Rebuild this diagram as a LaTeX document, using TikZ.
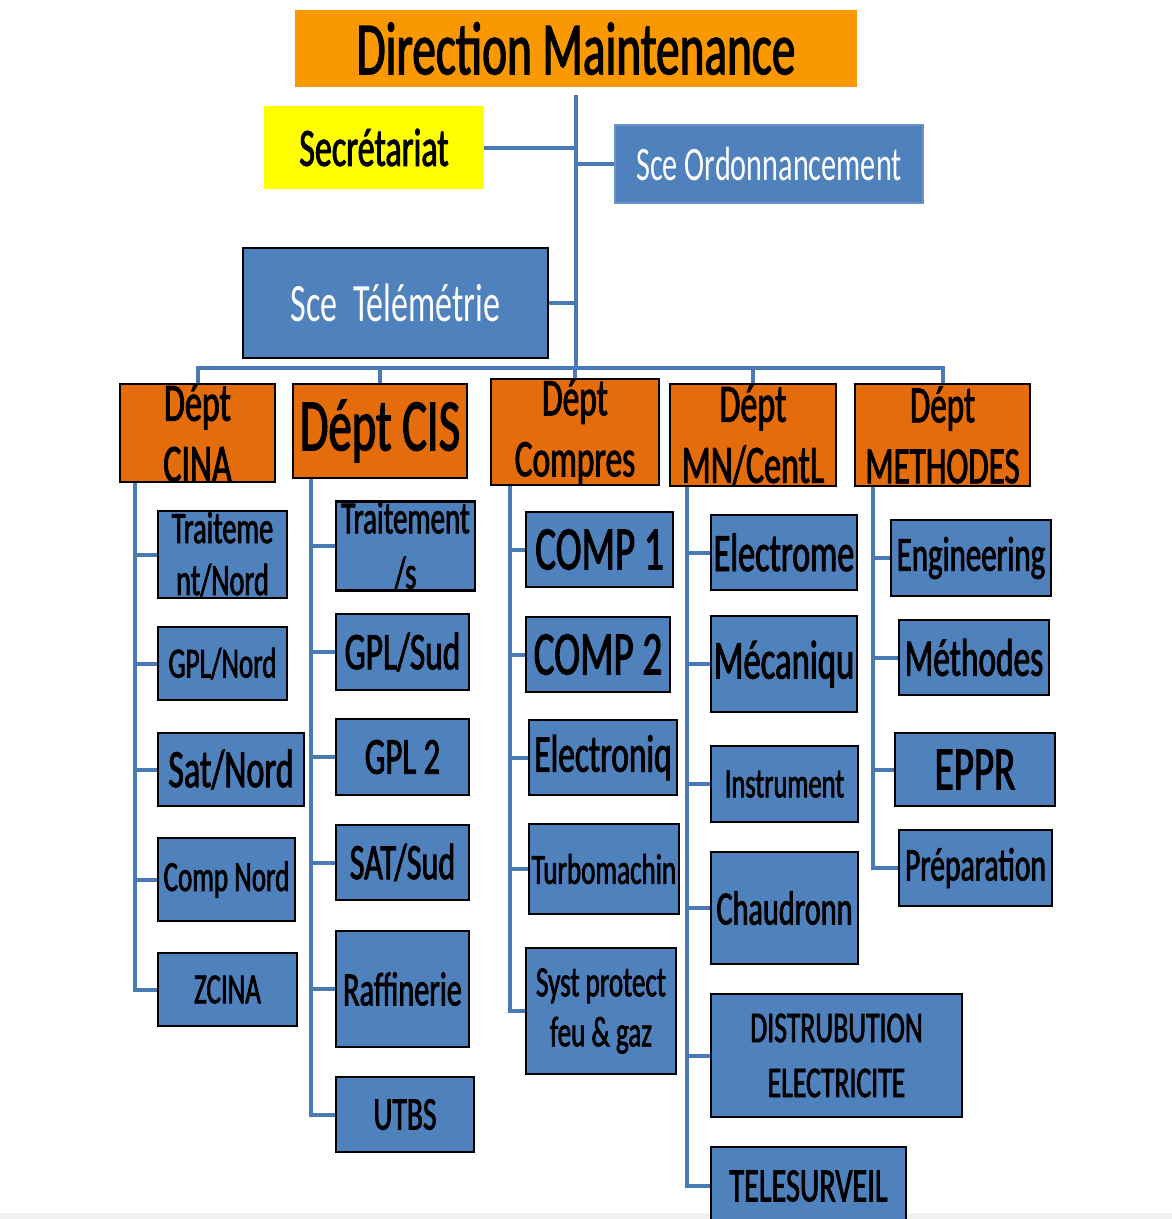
\documentclass[tikz,border=0pt]{standalone}
\usepackage{fontspec}
\setmainfont{Carlito}[FakeStretch=0.63,FakeBold=1.6]
\newfontfamily\plainfont{Carlito}[FakeStretch=0.63]
\usetikzlibrary{backgrounds}
\definecolor{boxblue}{RGB}{79,129,189}
\definecolor{lineblue}{RGB}{74,122,182}
\definecolor{titleorange}{RGB}{250,152,0}
\definecolor{deptorange}{RGB}{228,108,10}
\definecolor{secyellow}{RGB}{255,255,0}
\definecolor{ordoborder}{RGB}{110,146,200}
\begin{document}
\begin{tikzpicture}[x=1pt,y=-1pt,
  box/.style={rectangle, inner sep=0pt, outer sep=0pt, align=center},
  wh/.style 2 args={minimum width=#1pt, minimum height=#2pt},
  fz/.style 2 args={font=\fontsize{#1}{#2}\selectfont},
  pz/.style 2 args={font=\plainfont\fontsize{#1}{#2}\selectfont},
  bluebox/.style={box, fill=boxblue, draw=black, line width=2.5pt, text=black},
  deptbox/.style={box, fill=deptorange, draw=black, line width=2.5pt, text=black},
  conn/.style={draw=lineblue, line width=4pt, line join=miter}]
\useasboundingbox (0,0) rectangle (1172,1219);

% top level
\node[box, fill=titleorange, wh={562}{77}, fz={75}{80}] (title) at (576,48.5) {Direction Maintenance};
\node[box, fill=secyellow, wh={220}{83}, fz={54}{60}] (secr) at (374,147.5) {Secrétariat};
\node[box, fill=boxblue, draw=ordoborder, line width=1.2pt, text=white, wh={308}{78}, pz={48}{54}] (ordo) at (769,164) {Sce Ordonnancement};
\node[box, fill=boxblue, draw=black, line width=2.5pt, text=white, wh={305}{110}, pz={54}{60}] (tele) at (395.5,303) {Sce\ \ Télémétrie};

% departments
\node[deptbox, wh={155}{98}, fz={54}{61}] (cina) at (197.5,433) {Dépt\\CINA};
\node[deptbox, wh={174}{94}, fz={74}{80}] (cis) at (380,431) {Dépt CIS};
\node[deptbox, wh={168}{96}, fz={53}{61}] (comp) at (575,432) {Dépt\\Compres};
\node[deptbox, wh={166}{102}, fz={54}{61}] (mn) at (753,435) {Dépt\\MN/CentL};
\node[deptbox, wh={175}{102}, fz={52.5}{61}] (meth) at (942.5,435) {Dépt\\METHODES};

% CINA children
\node[bluebox, wh={129}{87}, fz={45}{52}] (a1) at (222.5,554.5) {Traiteme\\nt/Nord};
\node[bluebox, wh={129}{73}, fz={43}{48}] (a2) at (222.5,663.5) {GPL/Nord};
\node[bluebox, wh={146}{73}, fz={54}{60}] (a3) at (231,769.5) {Sat/Nord};
\node[bluebox, wh={137}{83}, fz={43}{48}] (a4) at (226.5,879.5) {Comp Nord};
\node[bluebox, wh={139}{73}, fz={43}{48}] (a5) at (227.5,989.5) {ZCINA};

% CIS children
\node[bluebox, wh={139}{76}, fz={46}{55}] (b1) at (405.5,546) {Traitement\\/s};
\node[bluebox, wh={133}{76}, fz={53}{58}] (b2) at (402.5,652) {GPL/Sud};
\node[bluebox, wh={133}{76}, fz={52}{58}] (b3) at (402.5,757) {GPL 2};
\node[bluebox, wh={133}{75}, fz={51}{58}] (b4) at (402.5,862.5) {SAT/Sud};
\node[bluebox, wh={133}{116}, fz={48}{54}] (b5) at (402.5,989) {Raffinerie};
\node[bluebox, wh={138}{75}, fz={47}{52}] (b6) at (405,1114.5) {UTBS};

% Compres children
\node[bluebox, wh={147}{75}, fz={62}{68}] (c1) at (599.5,549.5) {COMP 1};
\node[bluebox, wh={144}{75}, fz={62}{68}] (c2) at (598,654.5) {COMP 2};
\node[bluebox, wh={148}{75}, fz={53}{58}] (c3) at (603,757.5) {Electroniq};
\node[bluebox, wh={150}{90}, fz={43}{48}] (c4) at (604,869) {Turbomachin};
\node[bluebox, wh={150}{126}, fz={43}{50}] (c5) at (601,1011) {Syst protect\\feu \& gaz};

% MN children
\node[bluebox, wh={146}{75}, fz={54}{60}] (d1) at (784,552.5) {Electrome};
\node[bluebox, wh={146}{96}, fz={55}{60}] (d2) at (784,664) {Mécaniqu};
\node[bluebox, wh={147}{76}, fz={42}{48}] (d3) at (784.5,784) {Instrument};
\node[bluebox, wh={147}{112}, fz={48}{54}] (d4) at (784.5,908) {Chaudronn};
\node[bluebox, wh={251}{123}, fz={44}{55}] (d5) at (836.5,1055.5) {DISTRUBUTION\\ELECTRICITE};
\node[bluebox, wh={195}{78}, fz={48}{54}] (d6) at (808.5,1186) {TELESURVEIL};

% METHODES children
\node[bluebox, wh={160}{76}, fz={49}{54}] (e1) at (971,558) {Engineering};
\node[bluebox, wh={150}{75}, fz={53}{58}] (e2) at (974,657.5) {Méthodes};
\node[bluebox, wh={160}{73}, fz={62}{68}] (e3) at (975,769.5) {EPPR};
\node[bluebox, wh={153}{76}, fz={47}{52}] (e4) at (975.5,868) {Préparation};

\begin{pgfonlayer}{background}
  \fill[white] (0,0) rectangle (1172,1219);
  \fill[black!6] (0,1213) rectangle (1172,1219);
  \coordinate (bus) at (576,368);
  \coordinate (trunktop) at ([yshift=-8pt]title.south);
  \draw[conn] (trunktop) -- (bus);
  \draw[conn] (secr.east) -- (secr.east -| bus);
  \draw[conn] (ordo.west) -- (ordo.west -| bus);
  \draw[conn] (tele.east) -- (tele.east -| bus);
  \foreach \d in {cina,cis,comp,mn,meth} \draw[conn] (bus) -| (\d.north);
  \coordinate (cinaV) at ([xshift=15pt]cina.south west);
  \coordinate (cisV) at ([xshift=18pt]cis.south west);
  \coordinate (compV) at ([xshift=19pt]comp.south west);
  \coordinate (mnV) at ([xshift=17pt]mn.south west);
  \coordinate (methV) at ([xshift=18pt]meth.south west);
  \foreach \c in {a1,a2,a3,a4,a5} \draw[conn] (cinaV) |- (\c.west);
  \foreach \c in {b1,b2,b3,b4,b5,b6} \draw[conn] (cisV) |- (\c.west);
  \foreach \c in {c1,c2,c3,c4,c5} \draw[conn] (compV) |- (\c.west);
  \foreach \c in {d1,d2,d3,d4,d5,d6} \draw[conn] (mnV) |- (\c.west);
  \foreach \c in {e1,e2,e3,e4} \draw[conn] (methV) |- (\c.west);
\end{pgfonlayer}
\end{tikzpicture}
\end{document}
